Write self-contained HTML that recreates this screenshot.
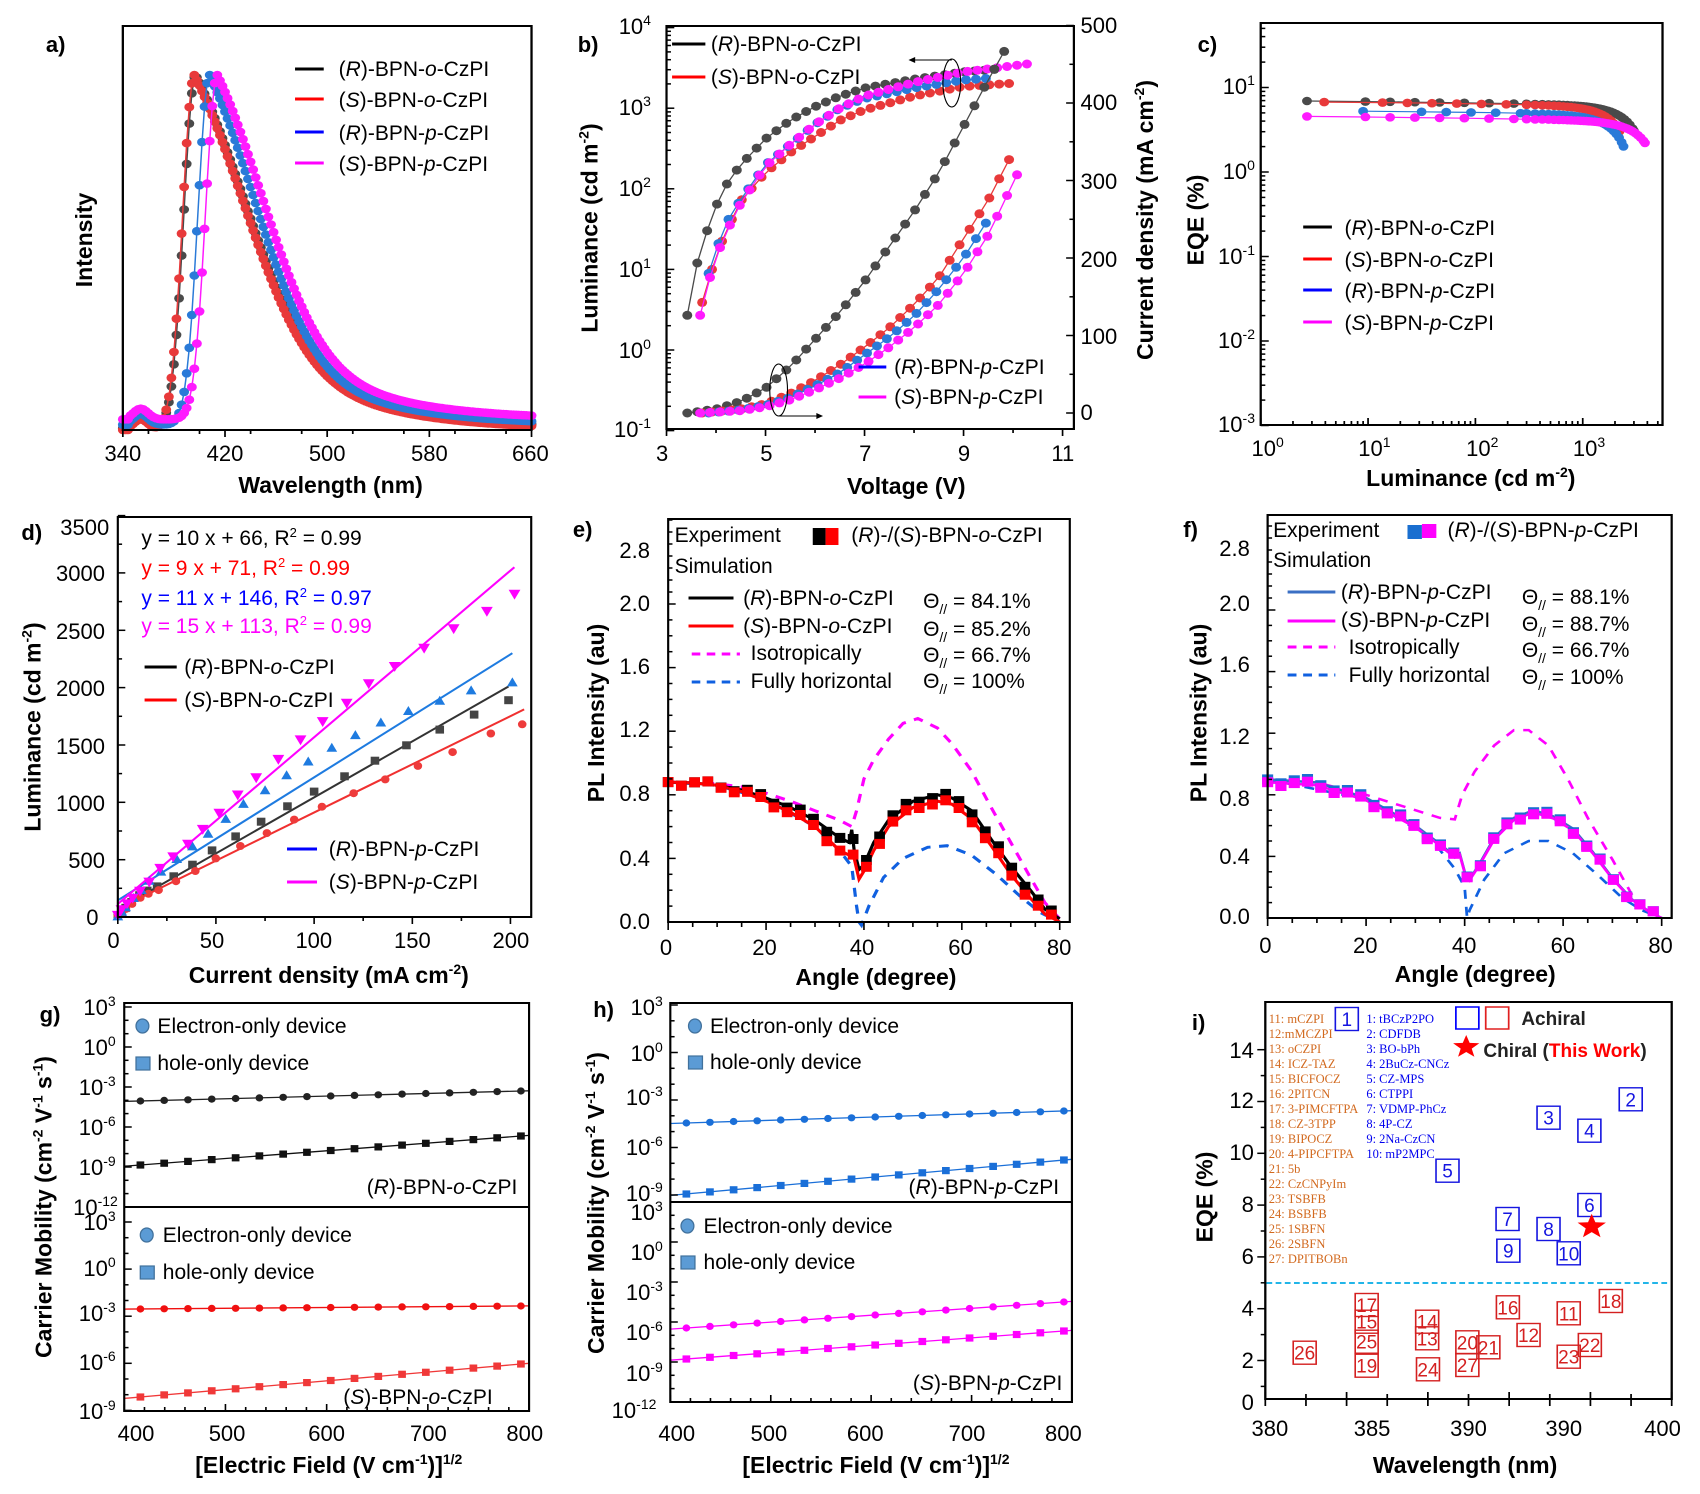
<!DOCTYPE html>
<html><head><meta charset="utf-8">
<style>
html,body{margin:0;padding:0;background:#fff;}
svg{display:block;}
text{font-family:"Liberation Sans",sans-serif;}
.t{font-size:22px;}
.b{font-weight:bold;font-size:23px;}
.l{font-size:21px;}
.pl{font-size:22px;font-weight:bold;}
.tm text{font-family:"Liberation Serif",serif;font-size:12.5px;}
</style></head><body>
<svg id="s" xmlns="http://www.w3.org/2000/svg" width="1700" height="1494" viewBox="0 0 1700 1494">
<rect width="1700" height="1494" fill="#fff"/>

<!-- Panel a -->
<g id="pa">
<g id="da"></g>
<rect x="107" y="26" width="356" height="404" fill="none" stroke="#000" stroke-width="2"/>
<text class="pl" x="40" y="52">a)</text>
<text class="b" transform="translate(80,240) rotate(-90)" text-anchor="middle">Intensity</text>
<g class="t" text-anchor="middle"><text x="107" y="461">340</text><text x="196" y="461">420</text><text x="285" y="461">500</text><text x="374" y="461">580</text><text x="462" y="461">660</text></g>
<text class="b" x="288" y="493" text-anchor="middle">Wavelength (nm)</text>
<g class="l"><text x="295" y="76">(<tspan font-style="italic">R</tspan>)-BPN-<tspan font-style="italic">o</tspan>-CzPI</text>
<text x="295" y="107">(<tspan font-style="italic">S</tspan>)-BPN-<tspan font-style="italic">o</tspan>-CzPI</text>
<text x="295" y="140">(<tspan font-style="italic">R</tspan>)-BPN-<tspan font-style="italic">p</tspan>-CzPI</text>
<text x="295" y="171">(<tspan font-style="italic">S</tspan>)-BPN-<tspan font-style="italic">p</tspan>-CzPI</text></g>
<g stroke-width="3"><line x1="257" y1="69" x2="282" y2="69" stroke="#000"/><line x1="257" y1="99" x2="282" y2="99" stroke="#f00"/><line x1="257" y1="132" x2="282" y2="132" stroke="#00f"/><line x1="257" y1="163" x2="282" y2="163" stroke="#f0f"/></g>
</g>

<!-- Panel b -->
<g id="pb">
<g id="db"></g>
<rect x="652" y="26" width="367" height="403" fill="none" stroke="#000" stroke-width="2"/>
<text class="pl" x="572" y="52">b)</text>
<text class="b" transform="translate(590,228) rotate(-90)" text-anchor="middle">Luminance (cd m<tspan dy="-9" font-size="14">-2</tspan><tspan dy="9">)</tspan></text>
<g class="t" text-anchor="end">
<text x="638" y="34">10<tspan dy="-9" font-size="14">4</tspan></text>
<text x="638" y="115">10<tspan dy="-9" font-size="14">3</tspan></text>
<text x="638" y="196">10<tspan dy="-9" font-size="14">2</tspan></text>
<text x="638" y="277">10<tspan dy="-9" font-size="14">1</tspan></text>
<text x="638" y="358">10<tspan dy="-9" font-size="14">0</tspan></text>
<text x="638" y="437">10<tspan dy="-9" font-size="14">-1</tspan></text></g>
<g class="t"><text x="1025" y="33">500</text><text x="1025" y="110">400</text><text x="1025" y="189">300</text><text x="1025" y="267">200</text><text x="1025" y="344">100</text><text x="1025" y="420">0</text></g>
<g class="t" text-anchor="middle"><text x="648" y="461">3</text><text x="742" y="461">5</text><text x="831" y="461">7</text><text x="920" y="461">9</text><text x="1009" y="461">11</text></g>
<text class="b" x="868" y="494" text-anchor="middle">Voltage (V)</text>
<g class="l"><text x="692" y="51">(<tspan font-style="italic">R</tspan>)-BPN-<tspan font-style="italic">o</tspan>-CzPI</text>
<text x="692" y="84">(<tspan font-style="italic">S</tspan>)-BPN-<tspan font-style="italic">o</tspan>-CzPI</text>
<text x="857" y="374">(<tspan font-style="italic">R</tspan>)-BPN-<tspan font-style="italic">p</tspan>-CzPI</text>
<text x="857" y="404">(<tspan font-style="italic">S</tspan>)-BPN-<tspan font-style="italic">p</tspan>-CzPI</text></g>
<g stroke-width="3"><line x1="657" y1="44" x2="687" y2="44" stroke="#000"/><line x1="657" y1="77" x2="687" y2="77" stroke="#f00"/><line x1="825" y1="367" x2="850" y2="367" stroke="#00f"/><line x1="825" y1="397" x2="850" y2="397" stroke="#f0f"/></g>
<g fill="none" stroke="#000" stroke-width="1"><ellipse cx="909" cy="83" rx="8" ry="24"/><ellipse cx="753" cy="390" rx="8" ry="26"/>
<line x1="909" y1="60" x2="872" y2="60"/><line x1="753" y1="416" x2="791" y2="416"/></g>
<path d="M870 60 l6 -3 v6z M793 416 l-6 -3 v6z" fill="#000"/>
</g>
<text class="b" transform="translate(1153,220) rotate(-90)" text-anchor="middle">Current density (mA cm<tspan dy="-9" font-size="14">-2</tspan><tspan dy="9">)</tspan></text>

<!-- Panel c -->
<g id="pc">
<g id="dc"></g>
<rect x="1240" y="23" width="350" height="402" fill="none" stroke="#000" stroke-width="2"/>
<text class="pl" x="1185" y="52">c)</text>
<text class="b" transform="translate(1190,220) rotate(-90)" text-anchor="middle">EQE (%)</text>
<g class="t" text-anchor="end">
<text x="1235" y="94">10<tspan dy="-9" font-size="14">1</tspan></text>
<text x="1235" y="179">10<tspan dy="-9" font-size="14">0</tspan></text>
<text x="1235" y="264">10<tspan dy="-9" font-size="14">-1</tspan></text>
<text x="1235" y="348">10<tspan dy="-9" font-size="14">-2</tspan></text>
<text x="1235" y="432">10<tspan dy="-9" font-size="14">-3</tspan></text></g>
<g class="t" text-anchor="middle"><text x="1246" y="456">10<tspan dy="-9" font-size="14">0</tspan></text><text x="1339" y="456">10<tspan dy="-9" font-size="14">1</tspan></text><text x="1433" y="456">10<tspan dy="-9" font-size="14">2</tspan></text><text x="1526" y="456">10<tspan dy="-9" font-size="14">3</tspan></text></g>
<text class="b" x="1423" y="486" text-anchor="middle">Luminance (cd m<tspan dy="-9" font-size="14">-2</tspan><tspan dy="9">)</tspan></text>
<g class="l"><text x="1313" y="235">(<tspan font-style="italic">R</tspan>)-BPN-<tspan font-style="italic">o</tspan>-CzPI</text>
<text x="1313" y="267">(<tspan font-style="italic">S</tspan>)-BPN-<tspan font-style="italic">o</tspan>-CzPI</text>
<text x="1313" y="298">(<tspan font-style="italic">R</tspan>)-BPN-<tspan font-style="italic">p</tspan>-CzPI</text>
<text x="1313" y="330">(<tspan font-style="italic">S</tspan>)-BPN-<tspan font-style="italic">p</tspan>-CzPI</text></g>
<g stroke-width="3"><line x1="1277" y1="227" x2="1302" y2="227" stroke="#000"/><line x1="1277" y1="259" x2="1302" y2="259" stroke="#f00"/><line x1="1277" y1="290" x2="1302" y2="290" stroke="#00f"/><line x1="1277" y1="322" x2="1302" y2="322" stroke="#f0f"/></g>
</g>

<!-- Panel d -->
<g id="pd">
<g id="dd"></g>
<rect x="110" y="517" width="386" height="400" fill="none" stroke="#000" stroke-width="2"/>
<text class="pl" x="20" y="540">d)</text>
<text class="b" transform="translate(38,727) rotate(-90)" text-anchor="middle">Luminance (cd m<tspan dy="-9" font-size="14">-2</tspan><tspan dy="9">)</tspan></text>
<g class="t" text-anchor="end"><text x="102" y="535">3500</text><text x="98" y="581">3000</text><text x="98" y="639">2500</text><text x="98" y="696">2000</text><text x="98" y="754">1500</text><text x="98" y="811">1000</text><text x="98" y="868">500</text><text x="92" y="925">0</text></g>
<g class="t" text-anchor="middle"><text x="106" y="948">0</text><text x="198" y="948">50</text><text x="293" y="948">100</text><text x="385" y="948">150</text><text x="477" y="948">200</text></g>
<text class="b" x="307" y="983" text-anchor="middle">Current density (mA cm<tspan dy="-9" font-size="14">-2</tspan><tspan dy="9">)</tspan></text>
<g class="l">
<text x="132" y="545">y = 10 x + 66, R<tspan dy="-8" font-size="13">2</tspan><tspan dy="8"> = 0.99</tspan></text>
<text x="132" y="575" fill="#f00">y = 9 x + 71, R<tspan dy="-8" font-size="13">2</tspan><tspan dy="8"> = 0.99</tspan></text>
<text x="132" y="605" fill="#00f">y = 11 x + 146, R<tspan dy="-8" font-size="13">2</tspan><tspan dy="8"> = 0.97</tspan></text>
<text x="132" y="633" fill="#f0f">y = 15 x + 113, R<tspan dy="-8" font-size="13">2</tspan><tspan dy="8"> = 0.99</tspan></text>
<text x="172" y="674">(<tspan font-style="italic">R</tspan>)-BPN-<tspan font-style="italic">o</tspan>-CzPI</text>
<text x="172" y="707">(<tspan font-style="italic">S</tspan>)-BPN-<tspan font-style="italic">o</tspan>-CzPI</text>
<text x="307" y="856">(<tspan font-style="italic">R</tspan>)-BPN-<tspan font-style="italic">p</tspan>-CzPI</text>
<text x="307" y="889">(<tspan font-style="italic">S</tspan>)-BPN-<tspan font-style="italic">p</tspan>-CzPI</text></g>
<g stroke-width="3"><line x1="135" y1="667" x2="165" y2="667" stroke="#000"/><line x1="135" y1="700" x2="165" y2="700" stroke="#f00"/><line x1="268" y1="849" x2="296" y2="849" stroke="#00f"/><line x1="268" y1="882" x2="296" y2="882" stroke="#f0f"/></g>
</g>

<!-- Panel e -->
<g id="pe">
<g id="de"></g>
<rect x="661" y="519" width="375" height="403" fill="none" stroke="#000" stroke-width="2"/>
<text class="pl" x="572" y="537">e)</text>
<text class="b" transform="translate(601,713) rotate(-90)" text-anchor="middle">PL Intensity (au)</text>
<g class="t" text-anchor="end"><text x="644" y="558">2.8</text><text x="644" y="611">2.0</text><text x="644" y="674">1.6</text><text x="644" y="737">1.2</text><text x="644" y="801">0.8</text><text x="644" y="866">0.4</text><text x="644" y="929">0.0</text></g>
<g class="t" text-anchor="middle"><text x="659" y="955">0</text><text x="751" y="955">20</text><text x="842" y="955">40</text><text x="934" y="955">60</text><text x="1026" y="955">80</text></g>
<text class="b" x="855" y="985" text-anchor="middle">Angle (degree)</text>
<g class="l"><text x="667" y="542">Experiment</text><text x="667" y="573">Simulation</text>
<text x="832" y="542">(<tspan font-style="italic">R</tspan>)-/(<tspan font-style="italic">S</tspan>)-BPN-<tspan font-style="italic">o</tspan>-CzPI</text>
<text x="731" y="605">(<tspan font-style="italic">R</tspan>)-BPN-<tspan font-style="italic">o</tspan>-CzPI</text>
<text x="731" y="633">(<tspan font-style="italic">S</tspan>)-BPN-<tspan font-style="italic">o</tspan>-CzPI</text>
<text x="738" y="660">Isotropically</text><text x="738" y="688">Fully horizontal</text>
<text x="899" y="608">Θ<tspan dy="6" font-size="14">//</tspan><tspan dy="-6"> = 84.1%</tspan></text>
<text x="899" y="636">Θ<tspan dy="6" font-size="14">//</tspan><tspan dy="-6"> = 85.2%</tspan></text>
<text x="899" y="662">Θ<tspan dy="6" font-size="14">//</tspan><tspan dy="-6"> = 66.7%</tspan></text>
<text x="899" y="688">Θ<tspan dy="6" font-size="14">//</tspan><tspan dy="-6"> = 100%</tspan></text></g>
<rect x="796" y="528" width="12" height="17" fill="#000"/><rect x="808" y="528" width="12" height="17" fill="#f00"/>
<g stroke-width="3"><line x1="680" y1="598" x2="722" y2="598" stroke="#000"/><line x1="680" y1="626" x2="722" y2="626" stroke="#f00"/><line x1="683" y1="654" x2="728" y2="654" stroke="#f0f" stroke-dasharray="8,6"/><line x1="683" y1="682" x2="728" y2="682" stroke="#1060e0" stroke-dasharray="8,6"/></g>
</g>

<!-- Panel f -->
<g id="pf">
<g id="df"></g>
<rect x="1253" y="515" width="364" height="403" fill="none" stroke="#000" stroke-width="2"/>
<text class="pl" x="1177" y="537">f)</text>
<text class="b" transform="translate(1198,713) rotate(-90)" text-anchor="middle">PL Intensity (au)</text>
<g class="t" text-anchor="end"><text x="1237" y="556">2.8</text><text x="1237" y="611">2.0</text><text x="1237" y="672">1.6</text><text x="1237" y="744">1.2</text><text x="1237" y="806">0.8</text><text x="1237" y="864">0.4</text><text x="1237" y="924">0.0</text></g>
<g class="t" text-anchor="middle"><text x="1251" y="953">0</text><text x="1341" y="953">20</text><text x="1430" y="953">40</text><text x="1519" y="953">60</text><text x="1607" y="953">80</text></g>
<text class="b" x="1440" y="982" text-anchor="middle">Angle (degree)</text>
<g class="l"><text x="1258" y="537">Experiment</text><text x="1258" y="567">Simulation</text>
<text x="1415" y="537">(<tspan font-style="italic">R</tspan>)-/(<tspan font-style="italic">S</tspan>)-BPN-<tspan font-style="italic">p</tspan>-CzPI</text>
<text x="1319" y="599">(<tspan font-style="italic">R</tspan>)-BPN-<tspan font-style="italic">p</tspan>-CzPI</text>
<text x="1319" y="627">(<tspan font-style="italic">S</tspan>)-BPN-<tspan font-style="italic">p</tspan>-CzPI</text>
<text x="1326" y="654">Isotropically</text><text x="1326" y="682">Fully horizontal</text>
<text x="1482" y="604">Θ<tspan dy="6" font-size="14">//</tspan><tspan dy="-6"> = 88.1%</tspan></text>
<text x="1482" y="631">Θ<tspan dy="6" font-size="14">//</tspan><tspan dy="-6"> = 88.7%</tspan></text>
<text x="1482" y="657">Θ<tspan dy="6" font-size="14">//</tspan><tspan dy="-6"> = 66.7%</tspan></text>
<text x="1482" y="684">Θ<tspan dy="6" font-size="14">//</tspan><tspan dy="-6"> = 100%</tspan></text></g>
<rect x="1379" y="525" width="13" height="14" fill="#1a6fd0"/><rect x="1392" y="524" width="13" height="14" fill="#f0f"/>
<g stroke-width="3"><line x1="1271" y1="592" x2="1314" y2="592" stroke="#3a6fc4"/><line x1="1271" y1="621" x2="1314" y2="621" stroke="#f0f"/><line x1="1271" y1="647" x2="1314" y2="647" stroke="#f0f" stroke-dasharray="8,6"/><line x1="1271" y1="675" x2="1314" y2="675" stroke="#1060e0" stroke-dasharray="8,6"/></g>
</g>

<!-- Panel g -->
<g id="pg">
<g id="dg"></g>
<g fill="none" stroke="#000" stroke-width="2"><rect x="116" y="1003" width="378" height="408"/><line x1="116" y1="1207" x2="494" y2="1207"/></g>
<text class="pl" x="37" y="1022">g)</text>
<text class="b" transform="translate(48,1207) rotate(-90)" text-anchor="middle">Carrier Mobility (cm<tspan dy="-9" font-size="14">-2</tspan><tspan dy="9"> V</tspan><tspan dy="-9" font-size="14">-1</tspan><tspan dy="9"> s</tspan><tspan dy="-9" font-size="14">-1</tspan><tspan dy="9">)</tspan></text>
<g class="t" text-anchor="end">
<text x="108" y="1015">10<tspan dy="-9" font-size="14">3</tspan></text>
<text x="108" y="1055">10<tspan dy="-9" font-size="14">0</tspan></text>
<text x="108" y="1095">10<tspan dy="-9" font-size="14">-3</tspan></text>
<text x="108" y="1135">10<tspan dy="-9" font-size="14">-6</tspan></text>
<text x="108" y="1175">10<tspan dy="-9" font-size="14">-9</tspan></text>
<text x="110" y="1215">10<tspan dy="-9" font-size="14">-12</tspan></text>
<text x="108" y="1230">10<tspan dy="-9" font-size="14">3</tspan></text>
<text x="108" y="1276">10<tspan dy="-9" font-size="14">0</tspan></text>
<text x="108" y="1321">10<tspan dy="-9" font-size="14">-3</tspan></text>
<text x="108" y="1370">10<tspan dy="-9" font-size="14">-6</tspan></text>
<text x="108" y="1419">10<tspan dy="-9" font-size="14">-9</tspan></text></g>
<g class="t" text-anchor="middle"><text x="127" y="1441">400</text><text x="212" y="1441">500</text><text x="305" y="1441">600</text><text x="400" y="1441">700</text><text x="490" y="1441">800</text></g>
<text class="b" x="307" y="1473" text-anchor="middle">[Electric Field (V cm<tspan dy="-9" font-size="14">-1</tspan><tspan dy="9">)]</tspan><tspan dy="-9" font-size="14">1/2</tspan></text>
<g class="l"><text x="147" y="1033">Electron-only device</text><text x="147" y="1070">hole-only device</text>
<text x="152" y="1242">Electron-only device</text><text x="152" y="1279">hole-only device</text>
<text x="483" y="1194" text-anchor="end">(<tspan font-style="italic">R</tspan>)-BPN-<tspan font-style="italic">o</tspan>-CzPI</text>
<text x="460" y="1404" text-anchor="end">(<tspan font-style="italic">S</tspan>)-BPN-<tspan font-style="italic">o</tspan>-CzPI</text></g>
<g fill="#5b9bd5" stroke="#41719c" stroke-width="1.2"><ellipse cx="133" cy="1026" rx="6" ry="7"/><rect x="127" y="1057" width="13" height="13"/><ellipse cx="137" cy="1235" rx="6" ry="7"/><rect x="131" y="1266" width="13" height="13"/></g>
</g>

<!-- Panel h -->
<g id="ph">
<g id="dh"></g>
<g fill="none" stroke="#000" stroke-width="2"><rect x="663" y="1003" width="375" height="399"/><line x1="663" y1="1202" x2="1038" y2="1202"/></g>
<text class="pl" x="591" y="1017">h)</text>
<text class="b" transform="translate(601,1203) rotate(-90)" text-anchor="middle">Carrier Mobility (cm<tspan dy="-9" font-size="14">-2</tspan><tspan dy="9"> V</tspan><tspan dy="-9" font-size="14">-1</tspan><tspan dy="9"> s</tspan><tspan dy="-9" font-size="14">-1</tspan><tspan dy="9">)</tspan></text>
<g class="t" text-anchor="end">
<text x="656" y="1015">10<tspan dy="-9" font-size="14">3</tspan></text>
<text x="656" y="1061">10<tspan dy="-9" font-size="14">0</tspan></text>
<text x="656" y="1105">10<tspan dy="-9" font-size="14">-3</tspan></text>
<text x="656" y="1155">10<tspan dy="-9" font-size="14">-6</tspan></text>
<text x="656" y="1201">10<tspan dy="-9" font-size="14">-9</tspan></text>
<text x="656" y="1220">10<tspan dy="-9" font-size="14">3</tspan></text>
<text x="656" y="1260">10<tspan dy="-9" font-size="14">0</tspan></text>
<text x="656" y="1300">10<tspan dy="-9" font-size="14">-3</tspan></text>
<text x="656" y="1340">10<tspan dy="-9" font-size="14">-6</tspan></text>
<text x="656" y="1381">10<tspan dy="-9" font-size="14">-9</tspan></text>
<text x="650" y="1418">10<tspan dy="-9" font-size="14">-12</tspan></text></g>
<g class="t" text-anchor="middle"><text x="669" y="1441">400</text><text x="755" y="1441">500</text><text x="845" y="1441">600</text><text x="940" y="1441">700</text><text x="1030" y="1441">800</text></g>
<text class="b" x="855" y="1473" text-anchor="middle">[Electric Field (V cm<tspan dy="-9" font-size="14">-1</tspan><tspan dy="9">)]</tspan><tspan dy="-9" font-size="14">1/2</tspan></text>
<g class="l"><text x="700" y="1033">Electron-only device</text><text x="700" y="1069">hole-only device</text>
<text x="694" y="1233">Electron-only device</text><text x="694" y="1269">hole-only device</text>
<text x="1026" y="1194" text-anchor="end">(<tspan font-style="italic">R</tspan>)-BPN-<tspan font-style="italic">p</tspan>-CzPI</text>
<text x="1029" y="1390" text-anchor="end">(<tspan font-style="italic">S</tspan>)-BPN-<tspan font-style="italic">p</tspan>-CzPI</text></g>
<g fill="#5b9bd5" stroke="#41719c" stroke-width="1.2"><ellipse cx="686" cy="1026" rx="6" ry="7"/><rect x="680" y="1056" width="13" height="13"/><ellipse cx="679" cy="1226" rx="6" ry="7"/><rect x="673" y="1256" width="13" height="13"/></g>
</g>

<!-- Panel i -->
<g id="pi">
<g id="di"></g>
<rect x="1244" y="1002" width="354" height="397" fill="none" stroke="#000" stroke-width="2"/>
<text class="pl" x="1180" y="1030">i)</text>
<text class="b" transform="translate(1198,1197) rotate(-90)" text-anchor="middle">EQE (%)</text>
<g class="t" text-anchor="end"><text x="1234" y="1058">14</text><text x="1234" y="1108">12</text><text x="1234" y="1160">10</text><text x="1234" y="1212">8</text><text x="1234" y="1264">6</text><text x="1234" y="1316">4</text><text x="1234" y="1368">2</text><text x="1234" y="1410">0</text></g>
<g class="t" text-anchor="middle"><text x="1248" y="1436">380</text><text x="1337" y="1436">385</text><text x="1421" y="1436">390</text><text x="1504" y="1436">390</text><text x="1590" y="1436">400</text></g>
<text class="b" x="1418" y="1473" text-anchor="middle">Wavelength (nm)</text>
<line x1="1245" y1="1283" x2="1597" y2="1283" stroke="#22b5e8" stroke-width="2" stroke-dasharray="5,3"/>
<g class="tm" fill="#d2691e">
<text x="1247" y="1023">11: mCZPI</text><text x="1247" y="1038">12:mMCZPI</text><text x="1247" y="1053">13: oCZPI</text><text x="1247" y="1068">14: ICZ-TAZ</text><text x="1247" y="1083">15: BICFOCZ</text><text x="1247" y="1098">16: 2PITCN</text><text x="1247" y="1113">17: 3-PIMCFTPA</text><text x="1247" y="1128">18: CZ-3TPP</text><text x="1247" y="1143">19: BIPOCZ</text><text x="1247" y="1158">20: 4-PIPCFTPA</text><text x="1247" y="1173">21: 5b</text><text x="1247" y="1188">22: CzCNPyIm</text><text x="1247" y="1203">23: TSBFB</text><text x="1247" y="1218">24: BSBFB</text><text x="1247" y="1233">25: 1SBFN</text><text x="1247" y="1248">26: 2SBFN</text><text x="1247" y="1263">27: DPITBOBn</text></g>
<g class="tm" fill="#0000ee">
<text x="1332" y="1023">1: tBCzP2PO</text><text x="1332" y="1038">2: CDFDB</text><text x="1332" y="1053">3: BO-bPh</text><text x="1332" y="1068">4: 2BuCz-CNCz</text><text x="1332" y="1083">5: CZ-MPS</text><text x="1332" y="1098">6: CTPPI</text><text x="1332" y="1113">7: VDMP-PhCz</text><text x="1332" y="1128">8: 4P-CZ</text><text x="1332" y="1143">9: 2Na-CzCN</text><text x="1332" y="1158">10: mP2MPC</text></g>
<rect x="1410" y="1007" width="20" height="22" fill="none" stroke="#00f" stroke-width="1.5"/><rect x="1436" y="1007" width="20" height="22" fill="none" stroke="#e02020" stroke-width="1.5"/>
<text x="1467" y="1025" style="font-size:19px;font-weight:bold" fill="#222">Achiral</text>
<text x="1434" y="1057" style="font-size:19px;font-weight:bold" fill="#222">Chiral (<tspan fill="#f00">This Work</tspan>)</text>
</g>
</svg>
<script>
var NS='http://www.w3.org/2000/svg';
function G(id){return document.getElementById(id);}
function add(g,s){try{var doc=new DOMParser().parseFromString('<svg xmlns="'+NS+'">'+s+'</svg>','image/svg+xml');var r=doc.documentElement;while(r.firstChild){g.appendChild(document.importNode(r.firstChild,true));r.removeChild(r.firstChild);}}catch(e){}}
function f1(v){return (Math.round(v*10)/10).toString();}
function pl(pts,c,w,dash){return '<polyline fill="none" stroke="'+c+'" stroke-width="'+w+'" '+(dash?'stroke-dasharray="'+dash+'" ':'')+'points="'+pts.map(function(p){return f1(p[0])+','+f1(p[1]);}).join(' ')+'"/>';}
function mk(pts,shape,c,r){var s='';pts.forEach(function(p){var x=p[0],y=p[1];
 if(shape=='c')s+='<circle cx="'+f1(x)+'" cy="'+f1(y)+'" r="'+r+'" fill="'+c+'"/>';
 else if(shape=='s')s+='<rect x="'+f1(x-r)+'" y="'+f1(y-r)+'" width="'+2*r+'" height="'+2*r+'" fill="'+c+'"/>';
 else if(shape=='d')s+='<path d="M'+f1(x-r)+' '+f1(y-r*0.9)+'h'+2*r+'l'+(-r)+' '+f1(1.8*r)+'z" fill="'+c+'"/>';
 else if(shape=='t')s+='<path d="M'+f1(x-r)+' '+f1(y+r*0.9)+'h'+2*r+'l'+(-r)+' '+f1(-1.8*r)+'z" fill="'+c+'"/>';});return s;}
function interp(arr,x){if(x<=arr[0][0])return arr[0][1];for(var i=1;i<arr.length;i++){if(x<=arr[i][0]){var a=arr[i-1],b=arr[i];return a[1]+(b[1]-a[1])*(x-a[0])/(b[0]-a[0]);}}return arr[arr.length-1][1];}
function tk(x1,y1,x2,y2){return '<line x1="'+f1(x1)+'" y1="'+f1(y1)+'" x2="'+f1(x2)+'" y2="'+f1(y2)+'" stroke="#000" stroke-width="1.5"/>';}
function lg10(v){return Math.log(v)/Math.LN10;}
var K='#4a4a4a',R='#e8393a',B='#2a7ad8',M='#ff1aff';
function run(fn){try{fn();}catch(e){}}
// ---- Panel a
run(function(){var D=G('da');var xa=function(l){return 107+(l-340)*356/320},ya=function(v){return 430-v*355};
var sp=[[397,K,1,0.005],[396,R,1,0],[408,B,0.92,0.015],[414,M,0.92,0.03]];
var s='';sp.forEach(function(q){var pts=[];for(var l=340;l<=661;l+=2){var d=l-q[0],v;
 if(d<0){v=Math.exp(-Math.pow(d/13,2));}else{var e=d/q[2];v=0.5*Math.exp(-Math.pow(e/65,2))+0.5*Math.exp(-e/70);}
 v=v*(1-q[3])+q[3]+((l>344&&l<372)?0.03*Math.exp(-Math.pow((l-354)/8,2)):0);
 pts.push([xa(l),ya(v)]);}
 s+=pl(pts,q[1],1.3)+mk(pts,'c',q[1],4.3);});
[340,420,500,580,660].forEach(function(l){s+=tk(xa(l),430,xa(l),437);});for(var l=360;l<660;l+=40)s+=tk(xa(l),430,xa(l),434);add(D,s);});
// ---- Panel b
run(function(){var D=G('db');var xv=function(V){return 652+(V-3)*44.6},yl=function(l){return 350-l*80.6},yj=function(J){return 413-J*0.775};
var LL=[[[[3.42,0.43],[3.62,1.08],[3.82,1.48],[4.02,1.81],[4.22,2.06],[4.5,2.3],[5,2.62],[5.5,2.85],[6,3.02],[6.5,3.15],[7,3.25],[8,3.36],[9,3.45],[9.8,3.49]],K,3.42,9.8],
 [[[3.72,0.59],[3.92,1.0],[4.12,1.35],[4.32,1.62],[4.5,1.85],[5,2.2],[5.5,2.45],[6,2.65],[6.5,2.85],[7,2.98],[8,3.15],[9,3.27],[10,3.31]],R,3.72,10],
 [[[3.85,0.95],[4.05,1.32],[4.25,1.62],[4.5,1.87],[5,2.3],[5.5,2.55],[6,2.8],[6.5,3.0],[7,3.12],[8,3.25],[9,3.35],[9.5,3.37]],B,3.85,9.5],
 [[[3.68,0.43],[3.88,0.9],[4.08,1.27],[4.28,1.55],[4.5,1.82],[5,2.28],[5.5,2.55],[6,2.8],[6.5,3.0],[7,3.15],[8,3.32],[9,3.45],[10.3,3.55]],M,3.68,10.3]];
var JJ=[[[[3.42,0],[4,5],[4.5,15],[5,32],[5.5,60],[6,95],[6.5,130],[7,170],[7.5,215],[8,260],[8.5,310],[9,370],[9.5,430],[9.85,470]],K,3.42,9.85],
 [[[3.72,0],[4.5,5],[5,12],[5.5,25],[6,42],[6.5,62],[7,85],[7.5,110],[8,140],[8.5,175],[9,225],[9.5,275],[9.92,327]],R,3.72,9.92],
 [[[3.85,0],[4.5,4],[5,10],[5.5,20],[6,35],[6.5,52],[7,75],[7.5,98],[8,125],[8.5,160],[9,200],[9.45,245]],B,3.85,9.45],
 [[[3.68,0],[4.5,3],[5,8],[5.5,17],[6,30],[6.5,45],[7,63],[7.5,85],[8,110],[8.5,140],[9,180],[9.5,230],[10.25,330]],M,3.68,10.25]];
var s='';LL.forEach(function(q){var pts=[];for(var V=q[2];V<=q[3]+0.01;V+=0.2)pts.push([xv(V),yl(interp(q[0],V))]);s+=pl(pts,q[1],1.2)+mk(pts,'c',q[1],4.5);});
JJ.forEach(function(q){var pts=[];for(var V=q[2];V<=q[3]+0.01;V+=0.2)pts.push([xv(V),yj(interp(q[0],V))]);s+=pl(pts,q[1],1.2)+mk(pts,'c',q[1],4.5);});
for(var V=3;V<=11;V++)s+=tk(xv(V),429,xv(V),V%2?436:433);
for(var e=-1;e<=4;e++){s+=tk(652,yl(e),659,yl(e));if(e<4)for(var m=2;m<10;m++)s+=tk(652,yl(e+lg10(m)),656,yl(e+lg10(m)));}
for(var J=0;J<=500;J+=100){s+=tk(1019,yj(J),1012,yj(J));if(J<500)s+=tk(1019,yj(J+50),1015,yj(J+50));}add(D,s);});
// ---- Panel c
run(function(){var D=G('dc');var xl=function(L){return 1240+lg10(L)*93.5},ye=function(E){return 172-lg10(E)*84.5};
var S=[[7,3000,0.5,K,2.7],[6.8,2200,0.5,R,3.9],[5.3,2400,0.58,B,9],[4.6,3800,0.45,M,2.7]];var s='';
S.forEach(function(q){var Ls=[q[4]];var l=q[4]*3.5;while(l<300){Ls.push(l);l*=1.7;}for(l=300;l<q[1];l+=Math.max(60,l*0.06))Ls.push(l);Ls.push(q[1]);
 var pts=Ls.map(function(L){var f=L/q[1];return [xl(L),ye(q[0]*(1-q[2]*Math.pow(f,2.2))*(1-0.04*lg10(L/q[4]+1)))];});
 s+=pl(pts,q[3],1.2)+mk(pts,'c',q[3],4.3);});
for(var e=0;e<=3;e++){var p=Math.pow(10,e);s+=tk(xl(p),425,xl(p),418);for(var m=2;m<10;m++)if(xl(m*p)<1590)s+=tk(xl(m*p),425,xl(m*p),421);}
for(var e=-3;e<=1;e++){var p=Math.pow(10,e);s+=tk(1240,ye(p),1247,ye(p));for(var m=2;m<10;m++){var v=m*p;if(ye(v)>23)s+=tk(1240,ye(v),1244,ye(v));}}add(D,s);});
// ---- Panel d
run(function(){var D=G('dd');var xd=function(v){return 110+v*1.833},yd=function(v){return 917-v*0.1147};var s='';
var lines=[[0,66,199,2010,'#333'],[0,71,207,1810,'#f03030'],[0,146,201,2300,'#1e7be0'],[0,113,202,3050,'#f0f']];
lines.forEach(function(q){s+=pl([[xd(q[0]),yd(q[1])],[xd(q[2]),yd(q[3])]],q[4],2);});
var bk=[[0,10],[2,40],[4,80],[7,130],[11,190],[15,230],[20,267],[28.5,355],[38,456],[48,581],[60,703],[73,831],[86.4,965],[100,1093],[115.5,1227],[131,1363],[147,1497],[164,1634],[181.5,1765],[199,1890]];
var rd=bk.map(function(p){return [p[0]*1.04,p[1]*0.88];});rd[rd.length-1]=[206,1680];rd[rd.length-2]=[190,1600];
var bl=[[0,10],[2,50],[4,90],[8,170],[12,240],[16,320],[22,400],[30,510],[38,620],[46,730],[55,860],[64,990],[75,1110],[86,1240],[97,1360],[109,1480],[121,1590],[134,1700],[148,1800],[164,1890],[180,1980],[201,2050]];
var mg=[[0,10],[2,60],[5,110],[8,160],[12,220],[17,300],[23,420],[30,520],[38,630],[46,760],[55,900],[65,1060],[75,1210],[87,1370],[99,1540],[111,1700],[124,1860],[136,2030],[150,2180],[166,2340],[182,2510],[200,2660],[215,2810]];
mg=mg.map(function(p){return [p[0]*0.94,p[1]];});
s+=mk(bk.map(function(p){return [xd(p[0]),yd(p[1])]}),'s','#444',4);
s+=mk(rd.map(function(p){return [xd(p[0]),yd(p[1])]}),'c','#ee3b3b',4);
s+=mk(bl.map(function(p){return [xd(p[0]),yd(p[1])]}),'t','#1e7be0',5);
s+=mk(mg.map(function(p){return [xd(p[0]),yd(p[1])]}),'d','#f0f',5.5);
for(var v=0;v<=200;v+=25)s+=tk(xd(v),917,xd(v),v%50?921:924);for(var v=0;v<=3500;v+=250)s+=tk(110,yd(v),v%500?114:117,yd(v));add(D,s);});
// ---- Panels e,f
function pe(D,x0,sx,y0,sy,curves,sq,ytop){var xa=function(a){return x0+a*sx},ya=function(v){return y0-v*sy};var s='';
 curves.forEach(function(q){var pts=q[0].map(function(p){return [xa(p[0]),ya(p[1])]});s+=pl(pts,q[1],q[2],q[3]);});
 sq.forEach(function(q){var pts=[];for(var a=0;a<=80;a+=2.7)pts.push([xa(a),ya(interp(q[0],a)+(Math.sin(a*1.7)*0.02))]);s+=mk(pts,'s',q[1],q[2]);});
 for(var a=0;a<=80;a+=5)s+=tk(xa(a),y0,xa(a),a%20?y0+5:y0+8);for(var i=0;i<=20;i++){var v=i/10;s+=tk(x0,ya(v),x0+(i%4?4:7),ya(v));}
 for(var y=ya(2.0)-12;y>ytop;y-=12)s+=tk(x0,y,x0+4,y);add(D,s);}
var eK=[[0,0.88],[5,0.875],[10,0.86],[15,0.83],[20,0.78],[25,0.72],[30,0.64],[35,0.53],[37,0.5],[37.5,0.58],[38,0.45],[39,0.33],[40,0.36],[42,0.5],[45,0.64],[50,0.76],[55,0.8],[58,0.78],[62,0.7],[66,0.52],[70,0.35],[74,0.2],[77,0.08],[80,0.02]];
var eR=[[0,0.88],[5,0.875],[10,0.86],[15,0.82],[20,0.76],[25,0.69],[30,0.6],[35,0.45],[37,0.42],[38,0.4],[39,0.27],[40,0.32],[42,0.45],[45,0.6],[50,0.72],[55,0.76],[58,0.74],[62,0.65],[66,0.48],[70,0.3],[74,0.15],[77,0.05],[80,0]];
var eM=[[0,0.88],[10,0.87],[15,0.85],[20,0.81],[25,0.76],[30,0.7],[35,0.64],[37.5,0.6],[38.5,0.7],[40,0.9],[42,1.02],[45,1.15],[48,1.25],[51,1.28],[55,1.22],[58,1.12],[62,0.95],[66,0.72],[70,0.5],[74,0.28],[77,0.12],[80,0.02]];
var eB=[[0,0.88],[10,0.86],[20,0.77],[30,0.6],[35,0.45],[37.5,0.35],[38.5,0.1],[39,0],[39.5,-0.02],[41,0.1],[44,0.28],[48,0.4],[53,0.47],[57,0.48],[62,0.42],[67,0.3],[72,0.16],[76,0.06],[80,0]];
run(function(){pe(G('de'),661,4.57,922,159,[[eM,'#f0f',3,'9,8'],[eB,'#1060e0',3,'9,8'],[eK,'#000',3],[eR,'#f00',3]],[[eK,'#000',5],[eR,'#f00',5]],519);});
var fB=[[0,0.9],[10,0.88],[20,0.78],[30,0.6],[35,0.48],[38,0.4],[39,0.42],[40,0.3],[41,0.25],[43,0.35],[46,0.52],[50,0.65],[54,0.7],[58,0.66],[62,0.58],[66,0.43],[70,0.26],[74,0.12],[78,0.03],[80,0]];
var fM=fB.map(function(p){return [p[0],p[1]*0.98]});
var fI=[[0,0.9],[10,0.88],[20,0.8],[30,0.7],[35,0.65],[38,0.64],[39.5,0.8],[42,0.95],[46,1.12],[50,1.22],[53,1.22],[57,1.12],[61,0.9],[65,0.65],[70,0.38],[74,0.15],[77,0.04]];
var fH=[[0,0.9],[20,0.77],[30,0.58],[35,0.44],[38,0.32],[40,0.2],[40.5,0],[41,0.05],[44,0.25],[48,0.42],[53,0.5],[57,0.5],[62,0.42],[67,0.28],[72,0.13],[76,0.05],[80,0]];
run(function(){pe(G('df'),1253,4.437,918,154,[[fI,'#f0f',2.5,'9,8'],[fH,'#1060e0',2.5,'9,8'],[fB,'#3a6fc4',2.5],[fM,'#f0f',2.5]],[[fB,'#1a6fd0',5],[fM,'#f0f',5]],515);});
// ---- Panels g,h
function mob(D,x0,x1,series){var s='';series.forEach(function(q){var pts=[];for(var v=416;v<=792;v+=23.5)pts.push([x0+(v-400)*(x1-x0)/400,q[0]+(q[1]-q[0])*(v-416)/376]);
 s+=pl([[x0,q[0]-(q[1]-q[0])*16/376],[x1,q[1]+(q[1]-q[0])*8/376]],q[2],1.3)+mk(pts,q[3],q[2],3.6);});add(D,s);}
run(function(){mob(G('dg'),116,494,[[1101,1091,'#222','c'],[1165,1136,'#111','s'],[1309,1306,'#f01010','c'],[1397,1364,'#f03838','s']]);});
run(function(){mob(G('dh'),663,1038,[[1123,1111,'#1a6fd8','c'],[1194,1160,'#1a6fd8','s'],[1328,1302,'#f0f','c'],[1359,1331,'#f0f','s']]);});
run(function(){var sg='',sh='';function lg(x0,top,bot,per,n){var t='';for(var i=0;i<=n;i++){var y=top+i*per;if(y<=bot+0.5)t+=tk(x0,y,x0+(i%3?4:7),y);}return t;}
sg+=lg(116,1007,1207,13.33,15)+lg(116,1222,1411,15.7,12);sh+=lg(663,1005,1202,15.83,12)+lg(663,1202,1402,13.33,15);
for(var v=400;v<=800;v+=20){sg+=tk(116+(v-400)*0.945,1411,116+(v-400)*0.945,v%100?1407:1404);sh+=tk(663+(v-400)*0.9375,1402,663+(v-400)*0.9375,v%100?1398:1395);}add(G('dg'),sg);add(G('dh'),sh);});
// ---- Panel i
run(function(){var s='';for(var i=0;i<=10;i++){var x=1244+i*35.4;s+=tk(x,1399,x,i%2?1394:1392)+tk(x,1399,x,1406);}
for(var v=1;v<=14;v++){var y=1412.3-25.9*v;s+=tk(1244,y,1244-(v%2?4:7),y);}
var bl=[[1,645,57],[2,1387,298],[3,1172,353],[4,1279,392],[5,908,512],[6,1279,615],[7,1065,657],[8,1172,687],[9,1067,752],[10,1225,760]];
var rd=[[17,697,915],[15,697,965],[25,697,1025],[19,697,1097],[26,535,1058],[14,855,965],[13,855,1015],[24,857,1108],[20,960,1027],[27,960,1095],[21,1015,1042],[16,1066,922],[12,1120,1005],[11,1225,940],[23,1225,1070],[22,1280,1035],[18,1335,903]];
function bx(q,c){var x=1100+q[1]/3,y=1000+q[2]/3;s+='<rect x="'+f1(x-10)+'" y="'+f1(y-11.5)+'" width="20" height="23" fill="none" stroke="'+c+'" stroke-width="1.4"/><text x="'+f1(x)+'" y="'+f1(y+7)+'" text-anchor="middle" font-size="19" fill="'+c+'">'+q[0]+'</text>';}
bl.forEach(function(q){bx(q,'#1515e0')});rd.forEach(function(q){bx(q,'#d42020')});
function star(cx,cy,r){var p='';for(var i=0;i<10;i++){var a=-Math.PI/2+i*Math.PI/5,rr=i%2?r*0.42:r;p+=(i?'L':'M')+f1(cx+rr*Math.cos(a))+' '+f1(cy+rr*Math.sin(a));}return '<path d="'+p+'Z" fill="#f00"/>';}
s+=star(1100+1285/3,1000+680/3,13)+star(1419,1047,12);add(G('di'),s);});
// ---- horizontal rescale per panel (text kept unstretched)
run(function(){var P={pa:[0,1.148],pb:[520,1.11],pc:[1100,1.148],pd:[0,1.071],pe:[560,1.071],pf:[1120,1.11],pg:[0,1.071],ph:[560,1.071],pi:[1100,1.148]};
for(var id in P){var g=G(id);if(!g)continue;var o=P[id][0],f=P[id][1];
 g.setAttribute('transform','translate('+o+',0) scale('+f+',1) translate('+(-o)+',0)');
 var ts=g.getElementsByTagName('text');
 for(var i=0;i<ts.length;i++){var t=ts[i];var old=t.getAttribute('transform')||'';var X;
  var m=old.match(/translate\(\s*([-\d.]+)/);
  if(m)X=parseFloat(m[1]);else X=parseFloat(t.getAttribute('x')||'0');
  t.setAttribute('transform','translate('+X+',0) scale('+(1/f)+',1) translate('+(-X)+',0) '+old);}
}});
</script>
</body></html>
